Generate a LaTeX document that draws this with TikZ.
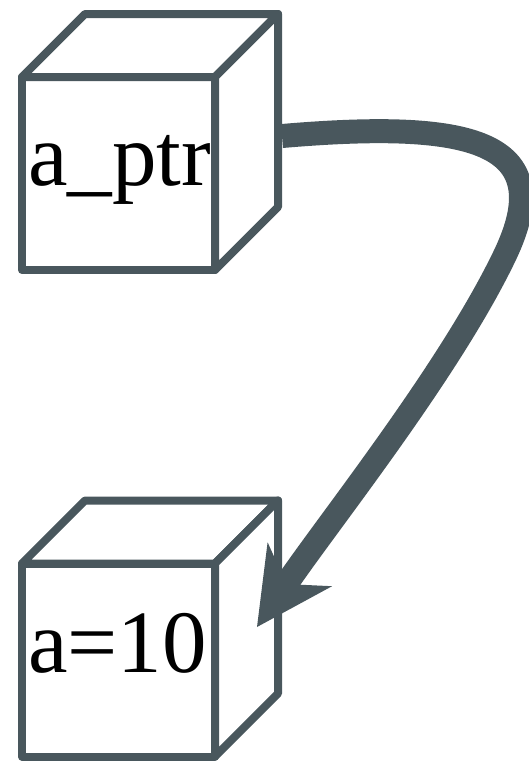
\documentclass[tikz,border=0pt]{standalone}
\usepackage{fontspec}
\setmainfont{Liberation Serif}
\usetikzlibrary{calc,arrows.meta}
\definecolor{slate}{RGB}{73,87,93}
\tikzset{
  face/.style={draw=slate, fill=white, line width=8pt, line join=round,
    rectangle, minimum size=193pt, inner sep=0pt, outer sep=0pt},
  edge/.style={draw=slate, fill=white, line width=8pt, line join=round},
  lbl/.style={anchor=base west, inner sep=0pt, text=black,
    font=\fontsize{89}{89}\selectfont},
  ptrarrow/.style={draw=slate, line width=24pt,
    -{Stealth[length=76pt, width=78pt, inset=24pt, line width=0pt]}},
}
\newcommand{\cubesides}[1]{%
  \draw[edge] (#1.north west) -- ++(63,-63) -- ++(193,0) -- (#1.north east) -- cycle;
  \draw[edge] (#1.north east) -- ++(63,-63) -- ++(0,193) -- (#1.south east) -- cycle;
}
\begin{document}
\begin{tikzpicture}[x=1pt,y=-1pt]
  \useasboundingbox (0,0) rectangle (529,761);
  % pointer cube
  \node[face] (ptr) at (118.5,173.5) {};
  \cubesides{ptr}
  \node[lbl] (ptrtext) at (28,185) {a\_ptr};
  % value cube
  \node[face] (val) at (118.5,660) {};
  \cubesides{val}
  \node[lbl] (valtext) at (28,672) {a=10};
  % pointer arrow
  \coordinate (src) at ($(ptr.east)+(67,-37.5)$);
  \coordinate (dst) at ($(val.east)+(42,-33)$);
  \draw[ptrarrow] (src) .. controls (470,120) and (560,140) .. (505,255)
    .. controls (450,370) and (330,520) .. (dst);
\end{tikzpicture}
\end{document}
